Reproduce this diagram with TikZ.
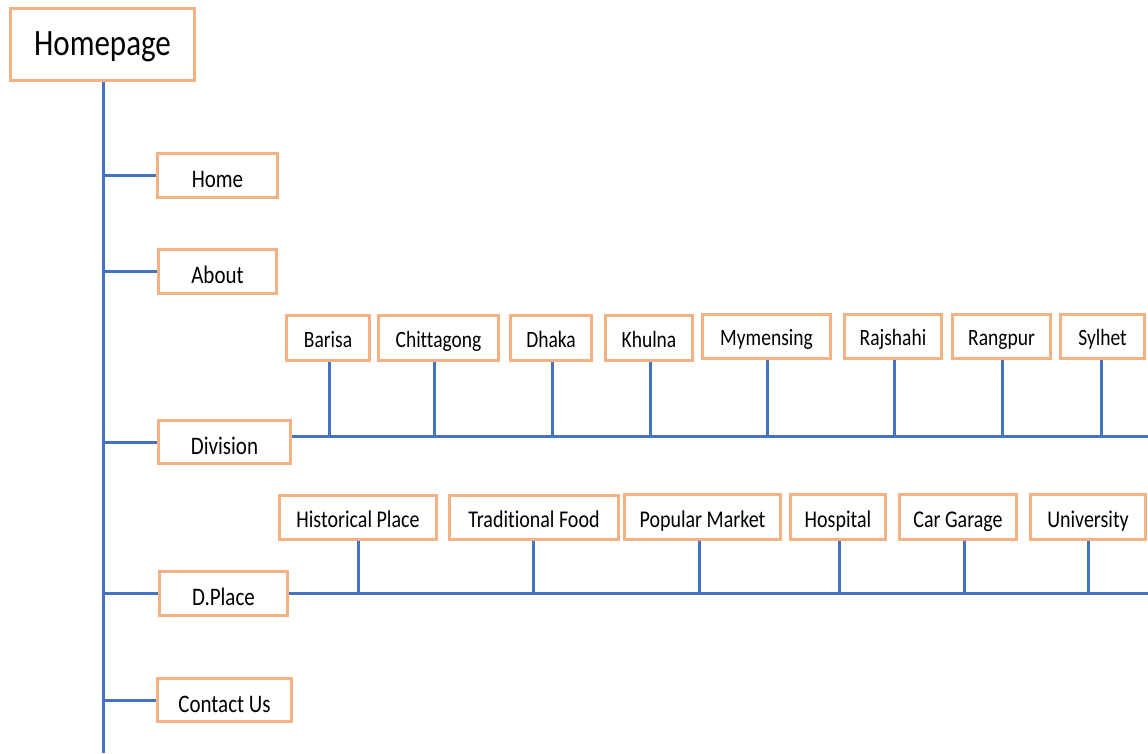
\documentclass[tikz,border=0pt]{standalone}
\usepackage{fontspec}
\setmainfont[Ligatures=NoCommon]{Carlito}
\usepackage{graphicx}
\definecolor{boxor}{HTML}{F4B183}
\definecolor{lineblue}{HTML}{4472C4}
\newcommand{\mytxt}[2]{\fontsize{#1}{#1}\selectfont\scalebox{1}[1.2]{#2}}
\tikzset{
  box/.style={draw=boxor, line width=3pt, fill=white, inner sep=0pt, align=center, text depth=0pt},
  menubox/.style={box, text height=24pt},
  divbox/.style={box, text height=18pt},
  placebox/.style={box, text height=20.5pt},
  link/.style={draw=lineblue, line width=3pt},
}
\begin{document}
\begin{tikzpicture}[x=1pt,y=-1pt]
\useasboundingbox (0,0) rectangle (1148,753);
% top
\node[box, text height=21pt, minimum width=184pt, minimum height=72pt] (hp) at (102.5,44.5) {\mytxt{31}{Homepage}};
% menu items
\node[menubox, minimum width=120pt, minimum height=44pt] (home) at (217.5,175.5) {\mytxt{21}{Home}};
\node[menubox, minimum width=118pt, minimum height=44pt] (about) at (217.5,271.5) {\mytxt{21}{About}};
\node[menubox, minimum width=132pt, minimum height=43pt] (div) at (224.5,442) {\mytxt{21}{Division}};
\node[menubox, minimum width=128pt, minimum height=44pt] (dpl) at (223.5,593.5) {\mytxt{21}{D.Place}};
\node[menubox, minimum width=134pt, minimum height=43pt] (cont) at (224.5,700) {\mytxt{21}{Contact Us}};
% division children
\node[divbox, minimum width=83pt, minimum height=45pt] (bar) at (328,338) {\mytxt{19.5}{Barisa}};
\node[divbox, minimum width=120pt, minimum height=45pt] (chi) at (438.5,338) {\mytxt{19.5}{Chittagong}};
\node[divbox, minimum width=81pt, minimum height=45pt] (dha) at (551,338) {\mytxt{19.5}{Dhaka}};
\node[divbox, minimum width=87pt, minimum height=45pt] (khu) at (649,338) {\mytxt{19.5}{Khulna}};
\node[divbox, minimum width=128pt, minimum height=44pt] (mym) at (766.5,336.5) {\mytxt{19.5}{Mymensing}};
\node[divbox, minimum width=97pt, minimum height=44pt] (raj) at (893,336.5) {\mytxt{19.5}{Rajshahi}};
\node[divbox, minimum width=98pt, minimum height=44pt] (ran) at (1001.5,336.5) {\mytxt{19.5}{Rangpur}};
\node[divbox, minimum width=84pt, minimum height=44pt] (syl) at (1102.5,336.5) {\mytxt{19.5}{Sylhet}};
% d.place children
\node[placebox, minimum width=157pt, minimum height=44pt] (his) at (358,517.5) {\mytxt{20}{Historical Place}};
\node[placebox, minimum width=169pt, minimum height=44pt] (tra) at (534,517.5) {\mytxt{20}{Traditional Food}};
\node[placebox, minimum width=156pt, minimum height=45pt] (pop) at (702.5,517) {\mytxt{20}{Popular Market}};
\node[placebox, minimum width=95pt, minimum height=45pt] (hos) at (838,517) {\mytxt{20}{Hospital}};
\node[placebox, minimum width=117pt, minimum height=45pt] (car) at (958,517) {\mytxt{20}{Car Garage}};
\node[placebox, minimum width=115pt, minimum height=45pt] (uni) at (1088,517) {\mytxt{20}{University}};
% coordinates
\coordinate (trunkend) at (103,753);
\coordinate (divend) at (1148,436);
\coordinate (dplend) at (1148,593);
% trunk
\draw[link] (hp.south -| trunkend) -- (trunkend);
\foreach \n in {home,about,div,dpl,cont}
  \draw[link] (\n.west -| trunkend) -- (\n.west);
% division bar
\draw[link] (div.east |- divend) -- (divend);
\foreach \n/\dx in {bar/1,chi/-4.5,dha/1,khu/1,mym/0.5,raj/1,ran/0.5,syl/-1.5}
  \draw[link] ([xshift=\dx pt]\n.south) -- ([xshift=\dx pt]\n.south |- divend);
% d.place bar
\draw[link] (dpl.east |- dplend) -- (dplend);
\foreach \n/\dx in {his/0,tra/-1,pop/-3.5,hos/1,car/6,uni/0}
  \draw[link] ([xshift=\dx pt]\n.south) -- ([xshift=\dx pt]\n.south |- dplend);
\end{tikzpicture}
\end{document}
